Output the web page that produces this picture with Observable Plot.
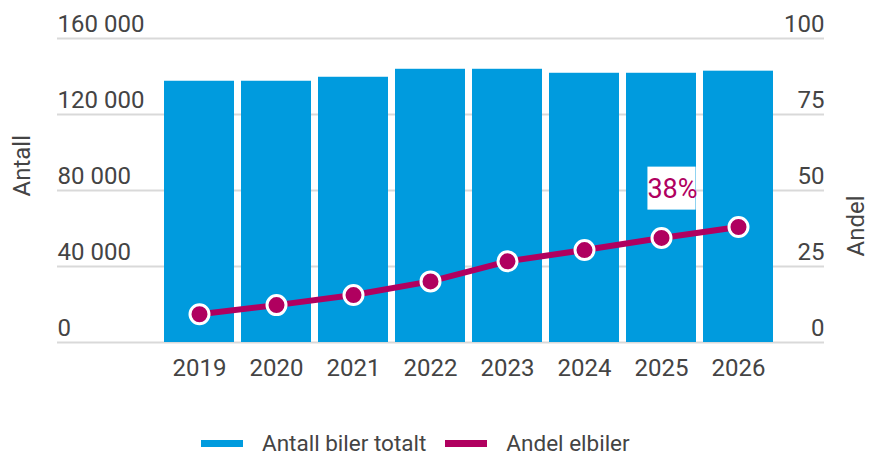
<!DOCTYPE html>
<html><head><meta charset="utf-8">
<script src="https://cdn.jsdelivr.net/npm/d3@7"></script>
<script src="https://cdn.jsdelivr.net/npm/@observablehq/plot@0.6"></script>
<style>
html,body{margin:0;padding:0;background:#fff;overflow:hidden;}
#wrap{position:relative;width:869px;height:457px;font-family:Roboto,sans-serif;color:#444;}
#legend{position:absolute;left:201px;top:430px;display:flex;align-items:center;font-size:22.5px;line-height:normal;white-space:nowrap;}
.sw{display:inline-block;width:42px;height:7px;margin-right:19px;}
.item{display:flex;align-items:center;margin-right:19px;}
</style></head>
<body><div id="wrap"><div id="chart"></div><div id="legend"></div></div>
<script>
const years = ["2019","2020","2021","2022","2023","2024","2025","2026"];
const totalCars = [137500,137500,139600,143800,143800,141700,141700,142800];
const evShare = [9.3,12.3,15.6,20.1,26.7,30.4,34.4,38];
const leftTicks = [0,40000,80000,120000,160000];
const rightTicks = [0,25,50,75,100];
const seriesNames = ["Antall biler totalt","Andel elbiler"];
const seriesColors = ["#009bde","#b0005f"];
const axisTitles = ["Antall","Andel"];
const shareLabel = "38%";

const ratio = leftTicks[leftTicks.length-1] / rightTicks[rightTicks.length-1];
const data = years.map((y,i)=>({year:y,total:totalCars[i],share:evShare[i]}));
const last = [data[data.length-1]];
const fmt = d3.formatLocale({thousands:"\u00a0",grouping:[3],decimal:",",currency:["",""]}).format(",");

const chart = Plot.plot({
  width:869, height:400,
  marginTop:38, marginBottom:58, marginLeft:57, marginRight:45,
  style:{fontFamily:"Roboto, sans-serif", color:"#444", background:"#fff", overflow:"visible"},
  x:{type:"band", domain:years, range:[163,774], paddingInner:0.094, paddingOuter:0},
  y:{domain:[0,leftTicks[leftTicks.length-1]]},
  marks:[
    Plot.gridY(leftTicks,{stroke:"#d9d9d9",strokeWidth:2,strokeOpacity:1}),
    Plot.barY(data,{x:"year",y:"total",fill:seriesColors[0]}),
    Plot.line(data,{x:"year",y:d=>d.share*ratio,stroke:seriesColors[1],strokeWidth:6}),
    Plot.dot(data,{x:"year",y:d=>d.share*ratio,r:9.5,fill:seriesColors[1],stroke:"#fff",strokeWidth:3}),
    Plot.text(last,{x:"year",y:d=>d.share*ratio,text:()=>shareLabel,dx:-66,dy:-38,fill:seriesColors[1],fontSize:27}),
    Plot.axisX({tickSize:0,tickPadding:16,fontSize:24,label:null}),
    Plot.axisY(leftTicks,{anchor:"left",tickSize:0,tickPadding:0,textAnchor:"start",dy:-14,fontSize:24,tickFormat:fmt,label:null}),
    Plot.axisY(rightTicks.map(v=>v*ratio),{anchor:"right",tickSize:0,tickPadding:0,textAnchor:"end",dy:-14,fontSize:24,tickFormat:d=>fmt(d/ratio),label:null}),
    Plot.text([axisTitles[0]],{frameAnchor:"left",rotate:-90,dx:-35,dy:6,fontSize:24,fill:"#444"}),
    Plot.text([axisTitles[1]],{frameAnchor:"right",rotate:-90,dx:32,dy:5,fontSize:24,fill:"#444"})
  ]
});
document.getElementById("chart").appendChild(chart);

// white background box behind the data label
chart.querySelectorAll("text").forEach(t=>{
  if(t.textContent===shareLabel){
    const b=t.getBBox();
    const r=document.createElementNS("http://www.w3.org/2000/svg","rect");
    r.setAttribute("x",b.x);r.setAttribute("y",b.y-6);
    r.setAttribute("width",b.width-2);r.setAttribute("height",b.height+11);
    r.setAttribute("fill","#fff");
    const tr=t.getAttribute("transform");
    if(tr) r.setAttribute("transform",tr);
    t.parentNode.insertBefore(r,t);
  }
});

const lg=document.getElementById("legend");
seriesNames.forEach((n,i)=>{
  const it=document.createElement("div");it.className="item";
  const sw=document.createElement("span");sw.className="sw";sw.style.background=seriesColors[i];
  const tx=document.createElement("span");tx.textContent=n;
  it.appendChild(sw);it.appendChild(tx);lg.appendChild(it);
});
</script>
</body></html>
